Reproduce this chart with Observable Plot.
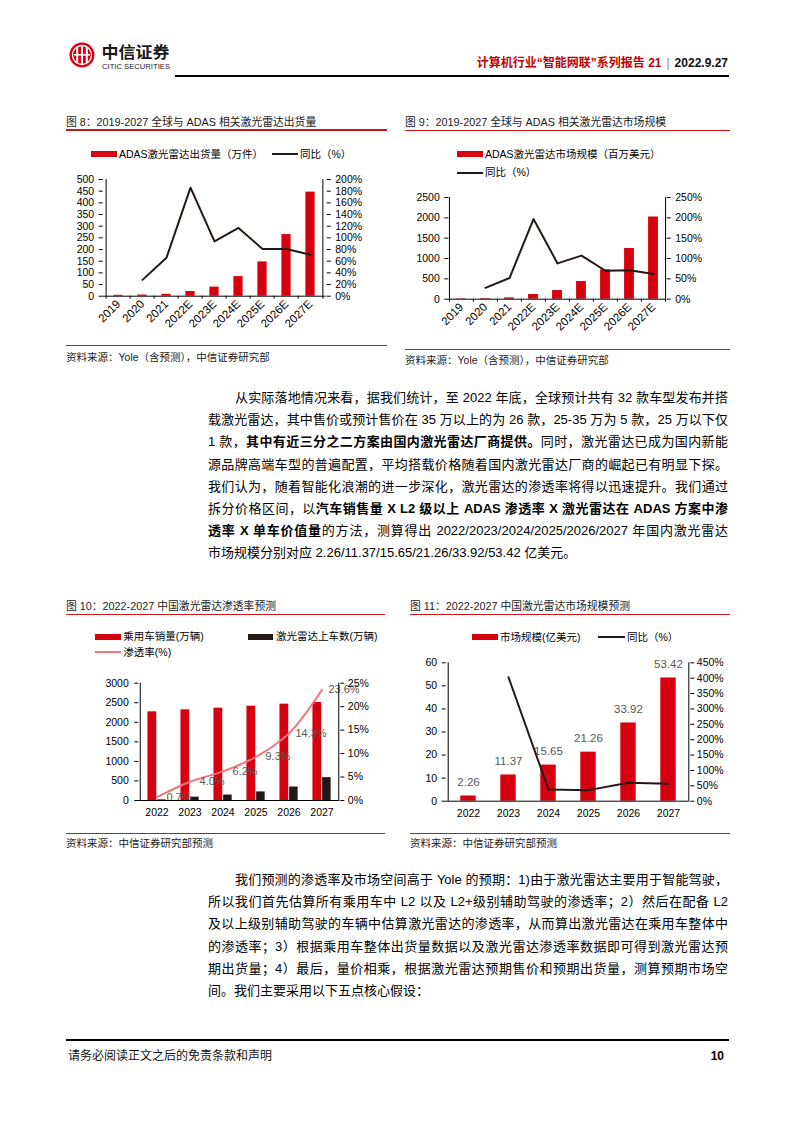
<!DOCTYPE html>
<html lang="zh-CN">
<head>
<meta charset="utf-8">
<script src="https://cdn.jsdelivr.net/npm/d3@7"></script>
<script src="https://cdn.jsdelivr.net/npm/@observablehq/plot@0.6"></script>
<style>
html,body{margin:0;padding:0;background:#fff;}
#page{position:relative;width:794px;height:1123px;overflow:hidden;font-family:"Liberation Sans",Arial,"Noto Sans CJK SC",sans-serif;color:#000;}
#page > div{position:absolute;}
svg{overflow:visible;}
</style>
</head>
<body>
<div id="page"></div>
<script>
// ---------- data ----------
const years19 = ["2019","2020","2021","2022E","2023E","2024E","2025E","2026E","2027E"];
const shipments = [4, 5, 8, 20, 39, 84, 147, 264, 446];          // 万件
const shipmentsYoY = [null, 28, 66, 186, 94, 117, 81, 81, 71];     // %
const marketGlobal = [10, 15, 33, 115, 213, 434, 721, 1246, 2020]; // 百万美元
const marketGlobalYoY = [null, 28, 52, 197, 88, 107, 70, 71, 62];  // %

const years22 = ["2022","2023","2024","2025","2026","2027"];
const carSales = [2268, 2319, 2361, 2412, 2464, 2506];   // 万辆
const lidarCars = [16, 85, 140, 220, 345, 585];          // 万辆
const penetration = [0.7, 4.0, 6.2, 9.3, 14.3, 23.6];    // %
const marketChina = [2.26, 11.37, 15.65, 21.26, 33.92, 53.42]; // 亿美元
const marketChinaYoY = [null, 403, 38, 36, 60, 57];      // %

const ticks8L = [0,50,100,150,200,250,300,350,400,450,500];
const ticks8R = [0,20,40,60,80,100,120,140,160,180,200];
const ticks9L = [0,500,1000,1500,2000,2500];
const ticks9R = [0,50,100,150,200,250];
const ticks10L = [0,500,1000,1500,2000,2500,3000];
const ticks10R = [0,5,10,15,20,25];
const ticks11L = [0,10,20,30,40,50,60];
const ticks11R = [0,50,100,150,200,250,300,350,400,450];

// ---------- style ----------
const FONT = '"Liberation Sans", Arial, "Noto Sans CJK SC", sans-serif';
const RED = "#D7000F";
const RULE_RED = "#C8161D";
const DARK = "#231815";
const PINK = "#F4717D";
const GRAY = "#595959";
const page = document.getElementById("page");

function addDiv(x, yc, html, size, extra = {}) {
  const d = document.createElement("div");
  const lh = Math.round(size * 1.4);
  d.style.left = x + "px";
  d.style.top = (yc - lh / 2) + "px";
  d.style.lineHeight = lh + "px";
  d.style.fontSize = size + "px";
  d.style.whiteSpace = "nowrap";
  Object.assign(d.style, extra);
  d.innerHTML = html;
  page.appendChild(d);
  return d;
}
function addRect(x1, x2, yc, h, color) {
  const d = document.createElement("div");
  d.style.left = x1 + "px";
  d.style.top = (yc - h / 2) + "px";
  d.style.width = (x2 - x1) + "px";
  d.style.height = h + "px";
  d.style.background = color;
  page.appendChild(d);
}

// ---------- header ----------
const logo = document.createElement("div");
logo.style.left = "0px"; logo.style.top = "0px";
logo.innerHTML = `<svg width="200" height="80">
  <circle cx="82" cy="55" r="12.5" fill="${RED}"/>
  <circle cx="82" cy="55" r="9.5" fill="none" stroke="#fff" stroke-width="1.3"/>
  <rect x="76.2" y="47" width="2" height="16" fill="#fff"/>
  <rect x="81" y="45" width="2" height="20" fill="#fff"/>
  <rect x="85.8" y="47" width="2" height="16" fill="#fff"/>
  <rect x="74" y="54" width="16" height="1.6" fill="#fff"/>
  <text x="101.5" y="58" font-family="Noto Sans CJK SC" font-weight="700" font-size="16" fill="#1a1a1a" textLength="68" lengthAdjust="spacingAndGlyphs">中信证券</text>
  <text x="102" y="68.5" font-family="Liberation Sans" font-size="7" fill="#1a1a1a" textLength="68" lengthAdjust="spacingAndGlyphs">CITIC SECURITIES</text>
</svg>`;
page.appendChild(logo);

addDiv(0, 63.3, `<span style="color:#C00000">计算机行业“智能网联”系列报告 21</span><span style="color:#888;font-weight:400;margin:0 5px">|</span><span style="color:#111">2022.9.27</span>`, 12,
  {right: "66px", left: "auto", fontWeight: "700", textAlign: "right"});
addRect(175, 729, 75.7, 2, "#000");

// ---------- chart frames ----------
function frame(x1, x2, titleY, ruleY, bottomY, sourceY, title, source) {
  addDiv(x1, titleY, title, 10.8, {color: "#1a1a1a"});
  addRect(x1, x2, ruleY, 1.3, RULE_RED);
  addRect(x1, x2, bottomY, 1.3, RULE_RED);
  addDiv(x1, sourceY, source, 10.5, {color: "#1a1a1a"});
}
frame(66, 387, 122.7, 130, 345.7, 357.5, "图 8：2019-2027 全球与 ADAS 相关激光雷达出货量", "资料来源：Yole（含预测），中信证券研究部");
frame(405, 730, 122.7, 130.7, 349.3, 360, "图 9：2019-2027 全球与 ADAS 相关激光雷达市场规模", "资料来源：Yole（含预测），中信证券研究部");
frame(66, 385, 606.7, 614.3, 833.7, 843.3, "图 10：2022-2027 中国激光雷达渗透率预测", "资料来源：中信证券研究部预测");
frame(410, 730, 606.7, 614.3, 833.7, 843.3, "图 11：2022-2027 中国激光雷达市场规模预测", "资料来源：中信证券研究部预测");

// legends
const LG = 10.5;
addRect(90.7, 117, 154, 6, RED);   addDiv(119, 154, "ADAS激光雷达出货量（万件）", LG);
addRect(271.7, 298, 154, 2.2, DARK); addDiv(300, 154, "同比（%）", LG);

addRect(456.7, 482.7, 154.3, 6, RED); addDiv(485, 154.3, "ADAS激光雷达市场规模（百万美元）", LG);
addRect(456.7, 482.7, 172.7, 2.2, DARK); addDiv(485, 172.7, "同比（%）", LG);

addRect(95, 121, 636.7, 6, RED); addDiv(123.3, 636.7, "乘用车销量(万辆)", LG);
addRect(248.3, 273.3, 636.7, 6, DARK); addDiv(276, 636.7, "激光雷达上车数(万辆)", LG);
addRect(95, 121, 652.3, 2.4, PINK); addDiv(123.3, 652.3, "渗透率(%)", LG);

addRect(471.7, 497.7, 637.3, 6, RED); addDiv(500, 637.3, "市场规模(亿美元)", LG);
addRect(598.3, 625, 637.3, 2.2, DARK); addDiv(627, 637.3, "同比（%）", LG);

// ---------- dual-axis chart helper ----------
function dualChart(c) {
  const n = c.cats.length;
  const bw = (c.w - c.ml - c.mr) / n;
  const k = c.leftMax / c.rightMax;
  const plotH = c.h - c.mt - c.mb;
  const marks = c.marks(bw, k);
  marks.push(Plot.ruleY([0], {stroke: "#000", strokeWidth: 1}));
  marks.push(Plot.ruleX([c.cats[0]], {dx: -bw / 2, stroke: "#000"}));
  marks.push(Plot.ruleX([c.cats[n - 1]], {dx: bw / 2, stroke: "#000"}));
  if (c.xTick) {
    const tl = c.xTick / plotH * c.leftMax;
    marks.push(Plot.ruleX(c.cats, {x: d => d, y1: 0, y2: -tl, dx: -bw / 2, stroke: "#000"}));
    marks.push(Plot.ruleX([c.cats[n - 1]], {x: d => d, y1: 0, y2: -tl, dx: bw / 2, stroke: "#000"}));
  }
  marks.push(Plot.axisY(c.leftTicks, {anchor: "left", tickSize: 4, tickPadding: c.lp, tickFormat: d => String(d), fontSize: c.fs, label: null, stroke: "#000"}));
  marks.push(Plot.axisY(c.rightTicks.map(v => v * k), {anchor: "right", tickSize: 4, tickPadding: c.rp, tickFormat: d => Math.round(d / k) + "%", fontSize: c.fs, label: null, stroke: "#000"}));
  marks.push(Plot.axisX(c.rotate
    ? {tickSize: 0, tickRotate: -45, tickPadding: 6, fontSize: 11.5, label: null}
    : {tickSize: 0, tickPadding: c.xPad, fontSize: c.fs, label: null}));
  const svg = Plot.plot({
    width: c.w, height: c.h,
    marginLeft: c.ml, marginRight: c.mr, marginTop: c.mt, marginBottom: c.mb,
    style: {fontFamily: FONT, color: "#000", background: "none", overflow: "visible"},
    x: {domain: c.cats, padding: 0},
    y: {domain: [0, c.leftMax]},
    marks
  });
  const wrap = document.createElement("div");
  wrap.style.left = c.x + "px"; wrap.style.top = c.y + "px";
  wrap.style.width = c.w + "px"; wrap.style.height = c.h + "px";
  wrap.appendChild(svg);
  page.appendChild(wrap);
}

// Chart 8
const d8 = years19.map((c, i) => ({c, v: shipments[i], r: shipmentsYoY[i]}));
dualChart({
  x: 60, y: 170, w: 330, h: 172, ml: 42.7, mr: 64.3, mt: 9, mb: 46.3,
  cats: years19, leftMax: 500, rightMax: 200, leftTicks: ticks8L, rightTicks: ticks8R,
  fs: 10.5, lp: 5, rp: 5, rotate: true, xTick: 3,
  marks: (bw, k) => [
    Plot.barY(d8, {x: "c", y: "v", fill: RED, insetLeft: (bw - 10) / 2, insetRight: (bw - 10) / 2}),
    Plot.lineY(d8.filter(d => d.r != null), {x: "c", y: d => d.r * k, stroke: DARK, strokeWidth: 2})
  ]
});

// Chart 9
const d9 = years19.map((c, i) => ({c, v: marketGlobal[i], r: marketGlobalYoY[i]}));
dualChart({
  x: 400, y: 188, w: 340, h: 160, ml: 48.3, mr: 74.3, mt: 9, mb: 49.3,
  cats: years19, leftMax: 2500, rightMax: 250, leftTicks: ticks9L, rightTicks: ticks9R,
  fs: 10.5, lp: 5, rp: 5, rotate: true, xTick: 3,
  marks: (bw, k) => [
    Plot.barY(d9, {x: "c", y: "v", fill: RED, insetLeft: (bw - 10) / 2, insetRight: (bw - 10) / 2}),
    Plot.lineY(d9.filter(d => d.r != null), {x: "c", y: d => d.r * k, stroke: DARK, strokeWidth: 2})
  ]
});

// Chart 10
const d10 = years22.map((c, i) => ({c, s: carSales[i], l: lidarCars[i], p: penetration[i]}));
dualChart({
  x: 60, y: 672, w: 330, h: 155, ml: 78.3, mr: 50.7, mt: 10.7, mb: 27,
  cats: years22, leftMax: 3000, rightMax: 25, leftTicks: ticks10L, rightTicks: ticks10R,
  fs: 10.5, lp: 6, rp: 4, rotate: false, xPad: 8,
  marks: (bw, k) => [
    Plot.barY(d10, {x: "c", y: "s", fill: RED, insetLeft: bw / 2 - 9.3, insetRight: bw / 2}),
    Plot.barY(d10, {x: "c", y: "l", fill: DARK, insetLeft: bw / 2 + 0.4, insetRight: bw / 2 - 9.4}),
    Plot.lineY(d10, {x: "c", y: d => d.p * k, stroke: PINK, strokeWidth: 2, curve: "catmull-rom"}),
    Plot.text(d10, {x: "c", y: d => d.p * k, text: d => d.p.toFixed(1) + "%", dx: 22, fill: GRAY, fontSize: 11})
  ]
});

// Chart 11
const d11 = years22.map((c, i) => ({c, v: marketChina[i], r: marketChinaYoY[i]}));
dualChart({
  x: 400, y: 650, w: 340, h: 177, ml: 45.7, mr: 50.7, mt: 12.3, mb: 26.3,
  cats: years22, leftMax: 60, rightMax: 450, leftTicks: ticks11L, rightTicks: ticks11R,
  fs: 10.5, lp: 5, rp: 3, rotate: false, xPad: 8,
  marks: (bw, k) => [
    Plot.barY(d11, {x: "c", y: "v", fill: RED, insetLeft: (bw - 16) / 2, insetRight: (bw - 16) / 2}),
    Plot.text(d11, {x: "c", y: "v", text: d => d.v.toFixed(2), dy: -14, fill: GRAY, fontSize: 11.5}),
    Plot.lineY(d11.filter(d => d.r != null), {x: "c", y: d => d.r * k, stroke: DARK, strokeWidth: 2})
  ]
});

// ---------- body text ----------
function bodyLine(x, yc, w, html, justify) {
  addDiv(x, yc, html, 13, {width: w + "px", whiteSpace: "normal", textAlign: justify ? "justify" : "left", textAlignLast: justify ? "justify" : "left", color: "#000"});
}
const p1 = [
  "从实际落地情况来看，据我们统计，至 2022 年底，全球预计共有 32 款车型发布并搭",
  "载激光雷达，其中售价或预计售价在 35 万以上的为 26 款，25-35 万为 5 款，25 万以下仅",
  "1 款，<b>其中有近三分之二方案由国内激光雷达厂商提供。</b>同时，激光雷达已成为国内新能",
  "源品牌高端车型的普遍配置，平均搭载价格随着国内激光雷达厂商的崛起已有明显下探。",
  "我们认为，随着智能化浪潮的进一步深化，激光雷达的渗透率将得以迅速提升。我们通过",
  "拆分价格区间，以<b>汽车销售量 X L2 级以上 ADAS 渗透率 X 激光雷达在 ADAS 方案中渗</b>",
  "<b>透率 X 单车价值量</b>的方法，测算得出 2022/2023/2024/2025/2026/2027 年国内激光雷达",
  "市场规模分别对应 2.26/11.37/15.65/21.26/33.92/53.42 亿美元。"
];
const p2 = [
  "我们预测的渗透率及市场空间高于 Yole 的预期：1)由于激光雷达主要用于智能驾驶，",
  "所以我们首先估算所有乘用车中 L2 以及 L2+级别辅助驾驶的渗透率；2）然后在配备 L2",
  "及以上级别辅助驾驶的车辆中估算激光雷达的渗透率，从而算出激光雷达在乘用车整体中",
  "的渗透率；3）根据乘用车整体出货量数据以及激光雷达渗透率数据即可得到激光雷达预",
  "期出货量；4）最后，量价相乘，根据激光雷达预期售价和预期出货量，测算预期市场空",
  "间。我们主要采用以下五点核心假设："
];
const LS = 22.2;
p1.forEach((t, i) => {
  const first = i === 0, last = i === p1.length - 1;
  bodyLine(first ? 235 : 208, 398 + LS * i, first ? 493 : 520, t, !last);
});
p2.forEach((t, i) => {
  const first = i === 0, last = i === p2.length - 1;
  bodyLine(first ? 235 : 208, 880 + LS * i, first ? 493 : 520, t, !last);
});

// ---------- footer ----------
addRect(66, 729, 1040, 1.5, "#000");
addDiv(68, 1056.7, "请务必阅读正文之后的免责条款和声明", 12, {color: "#111"});
addDiv(0, 1056.7, "10", 12, {left: "auto", right: "70px", fontWeight: "700"});
</script>
</body>
</html>
